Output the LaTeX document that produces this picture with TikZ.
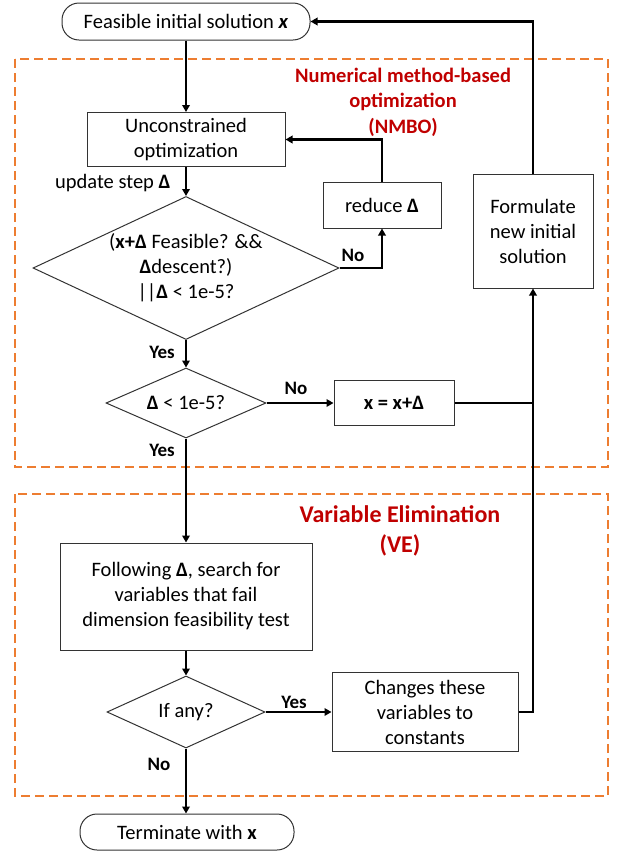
\documentclass[tikz,border=0pt]{standalone}
\usepackage{fontspec}
\setmainfont{Carlito}
\usetikzlibrary{arrows.meta,shapes.geometric}
\definecolor{boxorange}{HTML}{ED7D31}
\definecolor{titlered}{HTML}{C00000}
\begin{document}
\begin{tikzpicture}[x=1pt,y=-1pt,
  every node/.style={font=\fontsize{20.5}{25}\selectfont, text=black},
  procbox/.style={draw=black!80, line width=1pt, rectangle, align=center, inner sep=1pt},
  termbox/.style={draw=black!80, line width=1pt, rectangle, rounded corners=17pt, align=center, inner sep=1pt},
  decbox/.style={draw=black!80, line width=1pt, diamond, inner sep=0pt},
  dectext/.style={align=center, inner sep=0pt},
  conn/.style={line width=2.6pt, draw=black},
  arr/.style={conn, -{Triangle[length=7pt,width=7.5pt]}},
  lbl/.style={font=\fontsize{19}{22}\selectfont\bfseries},
  dashbox/.style={draw=boxorange, line width=1.3pt, dash pattern=on 9pt off 5pt},
  grouptitle/.style={font=\fontsize{20.5}{25.5}\selectfont\bfseries, text=titlered, align=center}
]
\useasboundingbox (0,0) rectangle (629,852);

% group frames
\draw[dashbox] (15,59) rectangle (608,467);
\draw[dashbox] (15,494) rectangle (608,796);
\node[grouptitle] (t1) at (403,102) {Numerical method-based\\optimization\\(NMBO)};
\node[grouptitle, font=\fontsize{24}{30}\selectfont\bfseries] (t2) at (400,531) {Variable Elimination\\(VE)};

% nodes
\node[termbox, minimum width=248, minimum height=37] (start) at (186,21.5) {Feasible initial solution \textbf{\textit{x}}};
\node[procbox, minimum width=198, minimum height=54] (uo) at (186,139.5) {Unconstrained\\optimization};
\node[decbox, minimum width=306, minimum height=143] (d1) at (186,268) {};
\node[dectext] (d1t) at (d1.center) {(\textbf{x+Δ} Feasible? \&\&\\\textbf{Δ}descent?)\\||\textbf{Δ} < 1e-5?};
\node[procbox, minimum width=118, minimum height=46] (red) at (382,205) {reduce \textbf{Δ}};
\node[procbox, minimum width=120, minimum height=114] (form) at (533,231) {Formulate\\new initial\\solution};
\node[decbox, minimum width=160, minimum height=70] (d2) at (186,403) {};
\node[dectext] (d2t) at (d2.center) {\textbf{Δ} < 1e-5?};
\node[procbox, minimum width=120, minimum height=45] (xb) at (394,403) {\textbf{x = x+Δ}};
\node[procbox, minimum width=252, minimum height=107] (fol) at (186,596.5) {Following \textbf{Δ}, search for\\variables that fail\\dimension feasibility test};
\node[decbox, minimum width=158, minimum height=72] (d3) at (186,712) {};
\node[dectext] (d3t) at (d3.center) {If any?};
\node[procbox, minimum width=186, minimum height=79] (chg) at (425,712) {Changes these\\variables to\\constants};
\node[termbox, minimum width=214, minimum height=36] (term) at (187,832) {Terminate with \textbf{x}};

% labels
\node[font=\fontsize{20.5}{24}\selectfont, anchor=east] (ustep) at (174,183) {update step \textbf{Δ}};
\node[lbl] (no1) at (353,255) {No};
\node[lbl] (yes1) at (162,352) {Yes};
\node[lbl] (no2) at (296,388) {No};
\node[lbl] (yes2) at (162,450) {Yes};
\node[lbl] (yes3) at (294,702) {Yes};
\node[lbl] (no3) at (159,764) {No};

% connectors
\draw[arr] (start.south) -- (uo.north);
\draw[arr] (uo.south) -- (d1.north);
\draw[arr] (d1.east) -| (red.south);
\draw[arr] (red.north) |- (uo.east);
\draw[arr] (d1.south) -- (d2.north);
\draw[arr] (d2.east) -- (xb.west);
\draw[conn] (xb.east) -- (xb.east -| form.south);
\draw[arr] (chg.east) -| (form.south);
\draw[arr] (form.north) |- (start.east);
\draw[arr] (d2.south) -- (fol.north);
\draw[arr] (fol.south) -- (d3.north);
\draw[arr] (d3.east) -- (d3.east -| chg.west);
\draw[arr] (d3.south) -- (d3.south |- term.north);
\end{tikzpicture}
\end{document}
